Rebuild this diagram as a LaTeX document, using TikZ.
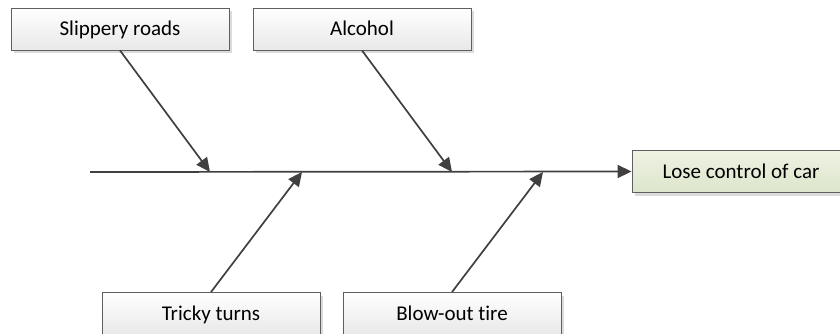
\documentclass[tikz,border=0pt]{standalone}
\usepackage{fontspec}
\setmainfont{Carlito}[Ligatures=NoCommon]
\usetikzlibrary{arrows.meta,shadows}
\definecolor{edgegray}{HTML}{5F5F5F}
\definecolor{bonegray}{HTML}{404040}
\definecolor{effecttop}{HTML}{EEF3E3}
\definecolor{effectbot}{HTML}{DDE5CB}
\tikzset{
  causebox/.style={draw=edgegray, line width=0.9pt, top color=white, bottom color=black!9,
    minimum width=218pt, minimum height=42pt, inner sep=0pt,
    text height=13.5pt, text depth=0pt, font=\fontsize{21}{25}\selectfont,
    drop shadow={shadow xshift=3pt, shadow yshift=-3pt, fill=black!14, opacity=1}},
  effectbox/.style={causebox, top color=effecttop, bottom color=effectbot},
  bone/.style={draw=bonegray, line width=1.7pt, -{Triangle[length=14pt,width=13pt]}}
}
\begin{document}
\begin{tikzpicture}[x=1pt,y=-1pt]
  \useasboundingbox (0,0) rectangle (840,334);
  \clip (0,0) rectangle (840,334);

  % effect and causes
  \node[effectbox] (lose) at (741,171.5) {Lose control of car};
  \node[causebox] (slip) at (120,29) {Slippery roads};
  \node[causebox] (alc) at (362,29) {Alcohol};
  \node[causebox] (turn) at (211,313.5) {Tricky turns};
  \node[causebox] (tire) at (452,313.5) {Blow-out tire};

  % spine and junctions
  \coordinate (tail) at (90,172);
  \coordinate (jslip) at (210,172);
  \coordinate (jalc) at (452,172);
  \coordinate (jturn) at (302,172);
  \coordinate (jtire) at (543,172);

  \draw[bone] (tail) -- (lose.west);
  \draw[bone] (slip.south) -- (jslip);
  \draw[bone] (alc.south) -- (jalc);
  \draw[bone] (turn.north) -- (jturn);
  \draw[bone] (tire.north) -- (jtire);
\end{tikzpicture}
\end{document}
